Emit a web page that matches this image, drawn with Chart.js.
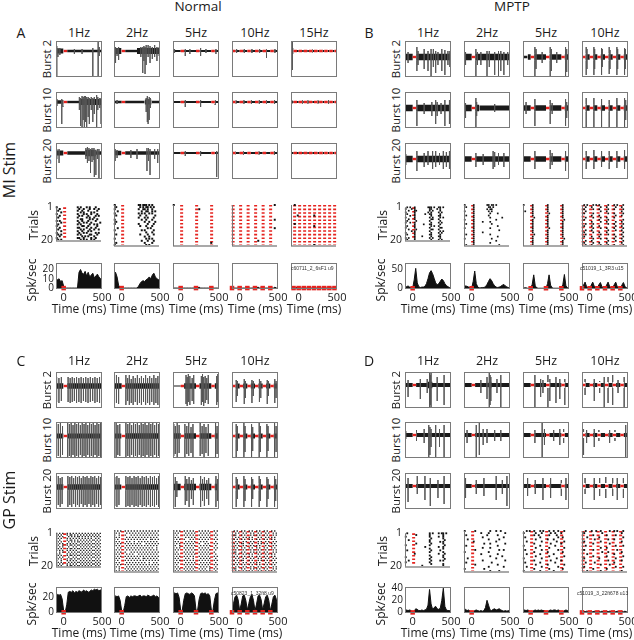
<!DOCTYPE html>
<html>
<head>
<meta charset="utf-8">
<script src="https://cdn.jsdelivr.net/npm/chart.js@4.4.0/dist/chart.umd.min.js"></script>
<style>
  body { margin: 0; background: #fff; }
  #fig { position: relative; width: 634px; height: 640px; overflow: hidden; font-family: "Open Sans", sans-serif; color: #1a1a1a; }
  #fig canvas { position: absolute; }
  .t { position: absolute; white-space: nowrap; line-height: 1; transform: translate(-50%, -50%); }
  .rot { transform: translate(-50%, -50%) rotate(-90deg); }
  .id { position: absolute; white-space: nowrap; line-height: 1; font-family: "Liberation Sans", sans-serif; font-size: 5px; color: #333; }
</style>
</head>
<body>
<div id="fig"></div>
<script>
// ---- stimulation times (ms) ----
const stim1Hz = [0];
const stim2Hz = [0];
const stim5Hz = [0, 200, 400];
const stim10Hz = [-100, 0, 100, 200, 300, 400];
const stim15Hz = [-66.7, 0, 66.7, 133.3, 200, 266.7, 333.3, 400, 466.7];

const freqsAC = ['1Hz', '2Hz', '5Hz', '10Hz', '15Hz'];
const freqsBD = ['1Hz', '2Hz', '5Hz', '10Hz'];

// PSTH bins (ms)
const psthTime = [-100,-80,-60,-40,-20,0,20,40,60,80,100,120,140,160,180,200,220,240,260,280,300,320,340,360,380,400,420,440,460,480,500];

// ---- A: Normal, MI stim. traces: [time, low, high] in px-units from baseline ----
const A_burst2 = [
  [[-90,-26,5],[-75,-6,3],[-50,-4,3],[140,-3,2],[240,-3,2],[380,-25,3],[450,-26,9],[465,-5,4]],
  [[-95,-8,5],[-80,-12,4],[-60,-5,3],[-40,-9,4],[250,-6,4],[275,-22,4],[290,-10,5],[305,-23,4],[320,-14,6],[345,-6,6],[370,-12,5],[400,-8,4],[430,-6,6],[460,-10,4],[490,-5,4]],
  [[-80,-2,2],[60,-5,2],[120,-3,2],[260,-5,3],[330,-2,2],[460,-3,2]],
  [[-40,-2,2],[60,-2,2],[160,-2,2],[260,-2,2],[350,-7,2],[460,-2,2]],
  [[-92,-4,4],[-82,-19,9],[-75,-3,3],[30,-2,2],[180,-2,2],[300,-2,2]]
];
const A_noise2 = [
  [[-100,0,2.5],[45,500,1.2]],
  [[-100,0,3],[45,200,1.2],[200,500,3]],
  [[-100,500,1.1]],
  [[-100,500,0.9]],
  [[-100,-70,2.5],[-70,500,0.9]]
];
const A_burst10 = [
  [[-88,-4,3],[-25,-22,3],[-10,-5,2],[205,-8,5],[220,-24,4],[240,-26,6],[255,-18,5],[270,-25,6],[285,-20,6],[300,-26,5],[320,-15,5],[335,-22,4],[360,-8,5],[380,-20,4],[400,-12,5],[430,-25,7],[445,-8,5],[470,-6,4],[488,-22,4]],
  [[-60,-2,2],[320,-10,4],[335,-20,6],[345,-22,3],[360,-18,5],[375,-6,4]],
  [[60,-5,2],[260,-5,2],[450,-3,2]],
  [[-50,-2,2],[55,-2,2],[150,-2,2],[255,-2,2],[350,-2,2],[455,-2,2]],
  [[-90,-2,2],[50,-2,2],[120,-2,2],[250,-2,2],[390,-2,2]]
];
const A_noise10 = [
  [[-100,0,1.8],[45,200,1.2],[200,500,3]],
  [[-100,300,1.2],[300,390,2.5],[390,500,1.2]],
  [[-100,500,1.1]],
  [[-100,500,0.9]],
  [[-100,500,0.9]]
];
const A_burst20 = [
  [[-90,-6,4],[-60,-10,4],[290,-6,5],[310,-10,6],[330,-8,5],[350,-20,4],[370,-9,5],[395,-7,5],[400,-24,3],[420,-22,3],[440,-6,4],[460,-25,4]],
  [[-85,-8,4],[-60,-5,3],[120,-5,3],[200,-6,4],[330,-18,5],[350,-8,5],[370,-22,4],[430,-6,4],[470,-10,4]],
  [[-95,-3,3],[60,-3,2],[260,-3,2],[470,-24,2]],
  [[-60,-2,2],[50,-2,2],[250,-2,2],[450,-2,2]],
  [[-50,-2,2],[100,-2,2],[300,-2,2]]
];
const A_noise20 = [
  [[-100,0,2.5],[45,280,1.8],[280,420,3.2],[420,500,1.8]],
  [[-100,0,2.2],[45,500,1.8]],
  [[-100,500,1.1]],
  [[-100,500,0.9]],
  [[-100,500,0.9]]
];
// rasters: one string per trial, each char = 20 ms bin from -100 ms ('x' = spike)
const A_raster = [
  ["x.... ..... ....x .x... x.x.. .x...", "..x.. ..... ..... x..x. ..x.. x..x.", ".x... ..... ....x ..x.. .x... ..x..", "...x. ..... ..... .x.x. ...x. x....",
   "x.... ..... ....x ...x. x..x. ..x..", "..x.. ..... ..... x.x.. .x... .x.x.", ".x... ..... ....x ..... x.x.. x....", "..... ..... ..... .xx.. ..x.x ..x..",
   "x.x.. ..... ....x ..x.. .x... .x...", "...x. ..... ..... x..x. x..x. ....x", ".x... ..... ....x .x... ..x.. x.x..", "x.... ..... ..... ..xx. .x... ..x..",
   "..x.. ..... ....x x.... x..x. .x...", ".x... ..... ..... .x.x. ..x.. x..x.", "...x. ..... ....x ..x.. .x.x. .....", "x.... ..... ..... x..x. x.... .x.x.",
   ".x.x. ..... ....x .x... ..xx. ..x..", "..x.. ..... ..... ..x.x .x... x....", "x.... ..... ....x x..x. ...x. .x...", ".x.x. ..... ..... .x.x. x..x. x...."],
  ["x.... ..... ..... .xx.x xx.x. x....", ".x... ..... ..... ..x.x .xx.x .x...", "x.... ..... ..... .x..x x.x.. x....", "..x.. ..... ..... ...x. .xx.. x.x..",
   "x.... ..... ..... .x.x. x..x. x....", ".x... ..... ..... ..x.. .x... ..x..", "..... ..... ..... .x... x.x.. .x...", "x.... ..... ..... ...x. .x... x....",
   ".x... ..... ..... ..... x..x. ..x..", "x.... ..... ..... .x... ..x.. .x...", "..... ..... ..... ..x.. .x... x....", "..x.. ..... ..... ..... ..x.x .....",
   "x.... ..... ..... ...x. x.... .x...", "..... ..... ..... ..... .x... x....", ".x... ..... ..... ..x.. ..x.. .x...", "..... ..... ..... ..... x..x. .....",
   "x.... ..... ..... ..... .x.x. x....", "..... ..... ..... ...x. ..x.. .x...", ".x... ..... ..... ..... x.... x....", "x.... ..... ..... ..... .x.x. ....."],
  ["x", "", "..... ..... ..... ..x", "", "", "", "", "", "", "", "", "", "", "", "", "", "", "", "..... ..... ..... ..... ..... x", ""],
  ["..... ..... ..... ..... ..... ...x", "", "", "", "", "", "", "..... ..... ..... ..... ..... ...x", "", "", "", "..... ..... ..... ..... ..... ...x", "", "", "", "", "", "..... ..... ..... ..x", "", ""],
  ["..x", "", "", "", "", "....x ..... ..... x", "", "", "", "..x", "..... ..... ..... x", "", "", "", "", "", "", "", "", "..... ..... ..... x"]
];
const A_psth = [
  [10,9,10,7,8, 2,0,0,0,0, 0,0,0,0,0, 17,20,16,15,18, 13,17,12,14,16, 11,13,15,12,10, 10],
  [5,17,12,3,1, 0,0,0,0,0, 0,0,0,0,0, 0,2,5,7,8, 7,9,10,12,10, 14,16,12,10,9, 10],
  [1,0,0,0,0, 0,0,0,0,0, 0,0,0,0,0, 0,0,1,0,0, 0,0,0,0,0, 1,0,0,0,0, 0],
  [0,0,0,0,0, 0,0,0,0,0, 0,0,0,0,0, 0,0,1,0,0, 0,0,0,0,0, 0,0,0,1,0, 0],
  [0,0,1,0,1, 0,0,0,0,0, 0,0,0,0,0, 1,0,0,0,0, 0,0,0,0,0, 0,0,0,0,0, 0]
];

// ---- B: MPTP, MI stim ----
const B_burst2 = [
  [[-95,-10,6],[-60,-6,5],[55,-14,10],[70,-8,6],[150,-12,8],[200,-14,6],[240,-19,8],[270,-10,8],[300,-16,6],[330,-8,5],[380,-14,8],[420,-18,7],[460,-8,6],[485,-10,6]],
  [[-95,-20,6],[-80,-8,5],[55,-20,8],[75,-8,5],[120,-8,5],[200,-20,6],[230,-10,6],[300,-18,5],[350,-20,6],[380,-14,6],[420,-18,5],[470,-8,5]],
  [[55,-20,10],[70,-12,8],[150,-6,5],[255,-20,10],[270,-14,8],[340,-6,5],[455,-20,10],[470,-15,8]],
  [[-45,-18,10],[-35,-12,8],[55,-18,10],[65,-12,8],[155,-18,9],[165,-10,8],[255,-17,10],[265,-12,7],[355,-18,10],[365,-12,8],[455,-18,9],[465,-12,8]]
];
const B_noise2 = [[[-100,500,3.2]], [[-100,500,3.2]], [[-100,-40,1.2],[-40,500,2.8]], [[-100,500,2.8]]];
const B_burst10 = [
  [[55,-18,8],[150,-6,5],[250,-8,6],[300,-16,8],[320,-8,6],[370,-6,5],[420,-18,8],[480,-16,8],[490,-10,6]],
  [[-80,-10,5],[55,-20,10],[65,-8,6],[300,-4,4]],
  [[-60,-6,6],[55,-18,9],[255,-16,8],[280,-6,5],[455,-18,9],[470,-10,6]],
  [[-45,-20,10],[55,-20,10],[155,-20,9],[255,-20,8],[355,-20,10],[455,-20,10],[470,-12,8]]
];
const B_noise10 = [[[-100,500,3.2]], [[-100,100,3.2],[100,500,2.5]], [[-100,500,2.8]], [[-100,500,2.8]]];
const B_burst20 = [
  [[-90,-6,5],[55,-12,8],[150,-8,6],[200,-6,8],[260,-10,8],[300,-8,8],[350,-6,6],[400,-10,8],[440,-8,7],[480,-10,8]],
  [[55,-8,6],[150,-6,5],[280,-10,8],[300,-8,7],[350,-6,6],[420,-8,6]],
  [[55,-10,8],[255,-10,9],[280,-6,6],[455,-12,8]],
  [[-45,-10,8],[55,-10,9],[155,-8,8],[255,-10,8],[355,-9,8],[455,-10,9]]
];
const B_noise20 = [[[-100,500,3.2]], [[-100,500,2.8]], [[-100,500,2.8]], [[-100,500,2.8]]];
const B_raster = [
  [".x.x. .x... ..... xxx.x ..xx. x....", "x...x .x... ..... .xx.. .x.x. .....", "..x.. .xx.. ..... .x.x. ...x. .....", "x.... .x... ..... x.x.. ..x.x .....",
   ".x... .x... ...x. .xx.. ...x. .....", "...x. .x... ..... ..x.. ..xx. .....", "x.... .x... ..... .x.x. ...x. x....", "..x.. .x... ..... ..xx. ..x.. .....",
   ".x... ..x.. ..... .x... ...x. .....", "x..x. .x... ..... ..x.. ..x.x .....", "..... .x... ..x.. .xx.. ...x. .....", ".x... .x... ..... ..x.x ..x.. .....",
   "x.... .x... ..... .x... ...xx .....", "..x.. ..x.. ..... ..xx. ..x.. .....", "....x .x... ..... .x... ...x. x....", "x.... .x... ..... ..x.. ..x.x .....",
   ".x... .x... ..... .xx.. ...x. .....", "..... .x... .x... ..x.. ..xx. .....", "x.x.. .x... ..... .x.x. ...x. .....", ".x... .x... ..... ..x.. ..x.x ....."],
  ["x.... .x... ..... xx.xx .x... .....", ".x... .x... ..... .xx.x ..... .....", "..... .x... ..... x.xx. ..... .....", "x.... .x... ..... .x.x. ..... .....",
   "..... .x... ..... ..x.. ..x.. .....", ".x... .x... ..... .x... ..... .....", "..... .x... ..... ..x.. ..... x....", "x.... .x... ..... ..... .x... .....",
   "..... .x... ..x.. ..x.. ..... .....", ".x... .x... ..... ...x. ..... .....", "..... .x... ..... ..... ..x.. .....", "x.... .x... ..... ..x.. ..... .....",
   "..... .x... ..... ..... ...x. .....", "..... .x... ..x.. ..... ..... .....", ".x... .x... ..... ..x.. ..... .....", "..... .x... ..... ..... ..x.. .....",
   "x.... .x... ..... ...x. ..... .....", "..... .x... ..... ..... .x... .....", "..... .x... ..... ..x.. ..... .....", ".x... .x... ..... ..... ...x. ....."],
  ["x.... .x... ..... .x... ..... .x...", "..... .x... ..... .x... ..... .x...", "..... .x... ..... .x... ..... .x...", ".x... .x... ..... .x... ..... .x...",
   "..... .x... ..... ..x.. ..... .x...", "..... .x... ..... .x... ..... .x...", "..... ..x.. ..... .x... ..... .x...", "..... .x... ..... .x... ..... ..x..",
   "..... .x... ..... .x... ..... .x...", "..... .x... ..... .x... ..... .x...", "..... .x... ..... .x... ..... .x...", "..... .x... ..... ..x.. ..... .x...",
   "..... .x... ..... .x... ..... .x...", "..... .x... ..... .x... ..... .x...", "..... ..x.. ..... .x... ..... .x...", "..... .x... ..... .x... ..... .x...",
   "..... .x... ..... .x... ..... ..x..", "..... .x... ..... .x... ..... .x...", "..... .x... ..... .x... ..... .x...", "..... .x... ..... .x... ..... .x..."],
  [".x.x. ..x.x .x... ..x.. .x.x. ..x..", "..x.. .x... ..x.. .x... ..x.. .x...", ".x... ..x.. .x... ..x.. .x... ..x..", "..x.. ..... ..x.. .x... ..... .x...",
   ".x... ..x.. ..... ..x.. .x... ..x..", "..... .x... .x... ..... ..x.. .x...", "..x.. ..x.. ..x.. .x... .x... .....", ".x... ..... .x... ..x.. ..... ..x..",
   "..... .x... ..x.. .x... ..x.. .x...", "..x.. ..x.. ..... ..x.. .x... ..x..", ".x... .x... .x... ..... ..x.. .x...", "..... ..x.. ..x.. .x... .x... ..x..",
   "..x.. .x... ..... ..x.. ..x.. .x...", ".x... ..x.. .x... .x... ..... ..x..", "..x.. ..... ..x.. ..x.. .x... .x...", ".x... .x... .x... ..... ..x.. ..x..",
   "..... ..x.. ..x.. .x... .x... .x...", "..x.. .x... ..... ..x.. ..x.. ..x..", ".x... ..x.. .x... .x... ..... .x...", "..x.. .x... ..x.. ..x.. .x... ..x.."]
];
const B_psth = [
  [5,4,6,3,2, 0,22,52,14,4, 2,3,3,5,12, 25,40,46,38,26, 14,9,12,18,24, 20,12,7,4,2, 2],
  [8,6,5,3,2, 0,18,45,12,3, 1,1,2,2,4, 10,18,25,20,12, 6,3,2,3,5, 8,10,6,3,2, 1],
  [1,1,1,0,0, 0,10,35,6,1, 0,0,0,0,0, 0,12,35,8,1, 0,0,0,0,0, 0,10,36,6,1, 0],
  [1,8,16,4,1, 1,8,16,5,1, 1,9,15,4,1, 1,8,16,5,1, 1,9,16,4,1, 1,8,15,5,1, 1]
];

// ---- C: Normal, GP stim ----
const C_burst2 = [
  [[-92,-16,9],[-62,-17,8],[-30,-15,9],[58,-16,9],[85,-17,8],[112,-16,9],[140,-15,8],[168,-17,9],[198,-16,8],[228,-17,9],[258,-15,8],[288,-16,9],[318,-17,8],[348,-16,9],[378,-15,8],[408,-17,9],[438,-16,8],[468,-17,9],[495,-15,8]],
  [[-95,-19,10],[-68,-17,11],[-40,-18,9],[55,-19,11],[78,-15,8],[100,-19,11],[125,-17,7],[150,-19,10],[178,-16,8],[205,-19,11],[232,-17,8],[258,-19,10],[285,-16,8],[312,-19,11],[338,-17,8],[365,-19,10],[392,-16,8],[420,-19,11],[446,-17,8],[472,-19,10],[496,-16,8]],
  [[70,-18,11],[85,-20,9],[100,-16,12],[120,-19,10],[150,-15,8],[170,-18,11],[270,-19,10],[285,-16,12],[300,-20,9],[320,-17,10],[340,-14,8],[360,-18,11],[470,-19,10],[485,-16,12]],
  [[-45,-16,6],[-30,-10,5],[60,-18,7],[75,-12,5],[160,-17,6],[178,-10,5],[258,-16,7],[275,-12,5],[360,-18,6],[375,-10,5],[458,-17,7],[475,-12,5]]
];
const C_noise2 = [[[-100,0,2.8],[45,500,2.8]], [[-100,500,2.8]], [[-100,40,0.6],[40,500,2.8]], [[-100,500,2.5]]];
const C_burst10 = [
  [[-95,-21,13],[-70,-20,12],[-42,-21,13],[-15,-19,10],[52,-21,13],[75,-20,12],[98,-21,13],[122,-19,11],[146,-21,13],[170,-20,12],[194,-21,13],[218,-19,11],[242,-21,13],[266,-20,12],[290,-21,13],[314,-19,11],[338,-21,13],[362,-20,12],[386,-21,13],[410,-19,11],[434,-21,13],[458,-20,12],[482,-21,13]],
  [[-95,-20,12],[-72,-21,13],[-50,-19,11],[-25,-20,12],[55,-21,13],[80,-20,12],[105,-21,13],[130,-19,11],[155,-21,13],[180,-20,12],[205,-21,13],[230,-19,11],[255,-21,13],[280,-20,12],[305,-21,13],[330,-19,11],[355,-21,13],[380,-20,12],[405,-21,13],[430,-19,11],[455,-21,13],[480,-20,12]],
  [[-90,-20,12],[-70,-18,10],[-45,-21,13],[-20,-17,11],[55,-21,12],[80,-18,10],[105,-20,13],[135,-17,9],[160,-21,12],[255,-20,13],[280,-18,10],[305,-21,12],[330,-17,9],[360,-20,12],[455,-21,13],[475,-18,10],[495,-20,12]],
  [[-45,-21,12],[-30,-15,10],[55,-21,13],[70,-16,10],[155,-21,12],[170,-15,9],[255,-21,13],[270,-16,10],[355,-21,12],[370,-15,10],[455,-21,13],[475,-16,10]]
];
const C_noise10 = [[[-100,0,2.5],[45,500,2.5]], [[-100,0,2.5],[45,500,2.8]], [[-100,500,2.8]], [[-100,500,2.5]]];
const C_burst20 = [
  [[-95,-20,10],[-70,-18,11],[-45,-20,9],[-20,-17,10],[55,-20,11],[80,-18,10],[105,-20,11],[130,-17,9],[155,-20,11],[180,-18,10],[205,-20,11],[230,-17,9],[255,-20,11],[280,-18,10],[305,-20,11],[330,-17,9],[355,-20,11],[380,-18,10],[405,-20,11],[430,-17,9],[455,-20,11],[480,-18,10]],
  [[-90,-19,10],[-62,-20,11],[-35,-18,9],[55,-20,11],[82,-19,10],[108,-20,11],[135,-18,9],[162,-20,11],[188,-19,10],[215,-20,11],[242,-18,9],[268,-20,11],[295,-19,10],[322,-20,11],[348,-18,9],[375,-20,11],[402,-19,10],[428,-20,11],[455,-18,9],[482,-20,11]],
  [[-95,-12,8],[-70,-20,10],[-50,-10,6],[60,-18,11],[80,-14,8],[110,-20,10],[140,-12,7],[165,-18,9],[260,-20,11],[285,-14,8],[310,-19,10],[340,-12,7],[365,-18,9],[460,-20,11],[480,-14,8]],
  [[-45,-20,10],[-30,-12,8],[55,-20,11],[70,-14,8],[155,-20,10],[170,-12,8],[255,-20,11],[270,-14,8],[355,-20,10],[370,-12,8],[455,-20,11],[470,-14,8]]
];
const C_noise20 = [[[-100,0,2.8],[45,500,2.8]], [[-100,0,2.5],[45,500,2.8]], [[-100,500,3.2]], [[-100,500,2.5]]];
const C_raster = [
  ["x.x.x ..x.x .x.x. x.x.x .x.x. x.x.x", ".x.x. ..x.x x.x.x .x.x. x.x.x .x.x.", "x.x.x ...x. x.x.x x.x.x .x.x. x.x.x", ".x.x. ..x.x .x.x. x.x.x .x.x. .x.x.",
   "x.x.. ..x.x x.x.x .x.x. x.x.x x.x.x", ".x.x. ...x. x.x.x x.x.x .x.x. .x.x.", "x.x.x ..x.x .x.x. .x.x. x.x.x x.x.x", ".x..x ..x.x x.x.x x.x.x .x.x. .x.x.",
   "x.x.x ...x. .x.x. .x.x. x.x.x x.x.x", ".x.x. ..x.x x.x.x x.x.x .x.x. .x.x.", "x.x.x ..x.x .x.x. .x.x. x.x.x x.x.x", "..x.x ...x. x.x.x x.x.x .x.x. .x.x.",
   "x.x.. ..x.x .x.x. .x.x. x.x.x x.x.x", ".x.x. ..x.x x.x.x x.x.x .x.x. .x.x.", "x.x.x ...x. .x.x. .x.x. x.x.x x.x.x", ".x.x. ..x.x x.x.x x.x.x .x.x. .x.x.",
   "x..x. ..x.x .x.x. .x.x. x.x.x x.x.x", ".x.x. ...x. x.x.x x.x.x .x.x. .x.x.", "x.x.x ..x.x .x.x. .x.x. x.x.x x.x.x", ".x.x. ..x.x x.x.x x.x.x .x.x. .x.x."],
  ["x.x.x ..x.x .x.x. x.x.x .x.x. x.x.x", ".x.x. ...x. x.x.x .x.x. x.x.x .x.x.", "x..x. ..x.. .x.x. x.x.x .x.x. x.x.x", ".x.x. ...x. x.x.x .x.x. x.x.x .x.x.",
   "x.x.. ..x.x .x.x. x.x.x .x..x x.x.x", ".x.x. ...x. x..x. .x.x. x.x.x .x.x.", "x.x.x ..x.x .x.x. x.x.. .x.x. x.x.x", ".x.x. ...x. x.x.x .x.x. x.x.x .x.x.",
   "..x.x ..x.x .x.x. x.x.x .x.x. x..x.", ".x.x. ...x. x.x.x .x.x. x.x.x .x.x.", "x.x.x ..x.. .x.x. x.x.x .x.x. x.x.x", ".x.x. ...x. x.x.. .x.x. x.x.x .x.x.",
   "x.x.x ..x.x .x.x. x.x.x .x.x. x.x.x", ".x.x. ...x. x.x.x .x..x x.x.x .x.x.", "x.x.. ..x.x .x.x. x.x.x .x.x. x.x.x", ".x.x. ...x. x.x.x .x.x. x..x. .x.x.",
   "x.x.x ..x.x .x.x. x.x.x .x.x. x.x.x", ".x.x. ...x. x.x.x .x.x. x.x.x .x.x.", "x..x. ..x.x .x.x. x.x.x .x.x. x.x.x", ".x.x. ...x. x.x.x .x.x. x.x.x .x.x."],
  ["x.x.x ..x.x .x.x. ..x.x .x.x. ..x.x", ".x.x. ...x. x.x.x ...x. x.x.x ...x.", "x.x.. ..x.x .x.x. ..x.x .x.x. ..x.x", ".x.x. ...x. x.x.x ...x. x.x.x ...x.",
   "x.x.x ..x.. .x.x. ..x.x .x.x. ..x.x", ".x.x. ...x. x.x.x ...x. x.x.. ...x.", "x.x.x ..x.x .x.x. ..x.. .x.x. ..x.x", ".x..x ...x. x.x.x ...x. x.x.x ...x.",
   "x.x.x ..x.x .x.x. ..x.x .x.x. ..x.x", ".x.x. ...x. x.x.x ...x. x.x.x ...x.", "x.x.. ..x.x .x.x. ..x.x .x.x. ..x..", ".x.x. ...x. x.x.x ...x. x.x.x ...x.",
   "x.x.x ..x.x .x.x. ..x.x .x.x. ..x.x", ".x.x. ...x. x..x. ...x. x.x.x ...x.", "x.x.x ..x.x .x.x. ..x.x .x.x. ..x.x", ".x.x. ...x. x.x.x ...x. x.x.x ...x.",
   "x.x.. ..x.x .x.x. ..x.x .x.x. ..x.x", ".x.x. ...x. x.x.x ...x. x.x.x ...x.", "x.x.x ..x.x .x.x. ..x.x .x..x ..x.x", ".x.x. ...x. x.x.x ...x. x.x.x ...x."],
  [".x.x. .x.x. .x.x. .x.x. .x.x. .x.x.", "..x.x ..x.x ..x.x ..x.x ..x.x ..x.x", ".xx.. .x.x. ..x.x .x.x. .x.x. ..x.x", "..x.x ..x.x .x.x. ..x.x ..x.x .x.x.",
   ".x.x. .x.x. .x.x. .x.x. .x.x. .x.x.", "..x.x ..x.x ..x.x ..x.x ..x.x ..x.x", ".x.x. .xx.. .x.x. ..x.x .x.x. .x.x.", "..x.x ..x.x ..x.x .x.x. ..x.x ..x.x",
   ".x.x. .x.x. .x.x. .x.x. .x.x. .x.x.", "..x.x ..x.x ..x.x ..x.x ..x.x ..x.x", ".xx.. .x.x. ..x.x .x.x. .x.x. ..x.x", "..x.x ..x.x .x.x. ..x.x ..x.x .x.x.",
   ".x.x. .x.x. .x.x. .x.x. .x.x. .x.x.", "..x.x ..x.x ..x.x ..x.x ..x.x ..x.x", ".x.x. .xx.. .x.x. ..x.x .x.x. .x.x.", "..x.x ..x.x ..x.x .x.x. ..x.x ..x.x",
   ".x.x. .x.x. .x.x. .x.x. .x.x. .x.x.", "..x.x ..x.x ..x.x ..x.x ..x.x ..x.x", ".xx.. .x.x. ..x.x .x.x. .x.x. ..x.x", "..x.x ..x.x .x.x. ..x.x ..x.x .x.x."]
];
const C_psth = [
  [22,24,23,24,18, 2,0,10,27,28, 27,29,26,28,27, 29,28,27,30,28, 29,27,28,30,29, 31,30,31,29,30, 30],
  [20,22,21,22,16, 2,0,9,21,22, 20,22,21,22,22, 21,22,23,21,22, 22,21,23,22,21, 22,23,21,22,20, 21],
  [24,26,25,26,20, 3,2,16,25,26, 25,24,26,25,22, 3,2,17,25,26, 25,26,24,25,22, 3,2,16,25,26, 25],
  [3,12,21,23,17, 2,11,22,23,16, 3,12,21,24,16, 2,11,22,23,17, 3,12,21,23,16, 2,11,21,23,17, 4]
];

// ---- D: MPTP, GP stim ----
const D_burst2 = [
  [[-60,-12,5],[100,-14,6],[190,-8,6],[220,-22,12],[230,-20,10],[240,-22,12],[320,-16,8],[410,-20,10]],
  [[-95,-22,6],[120,-8,5],[200,-14,8],[230,-22,12],[240,-20,10],[250,-16,8],[330,-8,6],[380,-22,10]],
  [[55,-22,10],[130,-12,6],[160,-8,5],[225,-22,10],[250,-16,6],[330,-18,8],[380,-14,6],[445,-20,6]],
  [[-60,-10,6],[60,-16,6],[130,-8,4],[190,-22,8],[240,-18,8],[300,-20,10],[370,-8,5],[450,-22,8]]
];
const D_noise2 = [[[-100,500,2],[200,260,3.2]], [[-100,500,2],[220,260,3.2]], [[-100,500,2]], [[-100,500,2]]];
const D_burst10 = [
  [[-90,-4,4],[50,-6,5],[150,-8,6],[210,-22,10],[225,-20,8],[240,-12,6],[300,-22,10],[350,-12,6],[410,-22,10]],
  [[-60,-8,5],[60,-22,10],[100,-20,12],[150,-10,6],[200,-8,6],[300,-6,5],[380,-6,5]],
  [[55,-8,5],[150,-22,12],[180,-10,6],[300,-6,5],[380,-10,6],[430,-8,6]],
  [[-80,-20,6],[-40,-8,5],[60,-12,6],[120,-6,5],[260,-8,5],[330,-6,5],[470,-22,10]]
];
const D_noise10 = [[[-100,500,2]], [[-100,500,2]], [[-100,500,2]], [[-100,500,2]]];
const D_burst20 = [
  [[-60,-16,8],[60,-8,10],[160,-14,10],[230,-20,8],[330,-12,6],[410,-18,10]],
  [[-80,-12,8],[60,-8,6],[160,-10,8],[320,-14,10],[400,-8,6],[460,-20,10]],
  [[-40,-10,8],[60,-8,6],[160,-14,8],[260,-12,8],[400,-10,6],[460,-14,8]],
  [[-60,-8,8],[60,-14,8],[130,-10,8],[210,-12,9],[300,-10,8],[360,-14,8],[440,-12,8]]
];
const D_noise20 = [[[-100,500,2]], [[-100,500,2]], [[-100,500,2]], [[-100,500,2]]];
const D_raster = [
  [".x... ..... ..... .x.x. ..x.x x.x..", "..... ..x.. ..... .x... ..... x....", "x.... ..... ..... .x... ..x.. x....", "..... ..... ..... ..x.. ..... x....",
   "..x.. ..... ..... .x... ..... .x...", "..... ..... ..... .x... ...x. x....", "..... ..x.. ..... ..x.. ..... x....", "x.... ..... ..... .x... ..... .x...",
   "..... ..... ...x. ..... ..x.. x....", "..... ..... ..... .x... ..... x....", ".x... ..... ..... ..x.. ...x. .....", "..... ..... ..... .x... ..... x....",
   "..... .x... ..... ..... ..x.. .x...", "..... ..... ..... .x... ..... x....", "x.... ..... ..... ..x.. ..... x....", "..... ..... ..... .x... ..... .x...",
   "..x.. ..... ..... ..x.. ...x. x....", "x.... ..... ..... .x... ..... .....", "..... ..... ..... ..x.. ..... x....", "..... ..... .x... ..... ..... x...."],
  ["x.... ..x.. ..... ..x.. .x..x .....", "..... ..... .x... .x... ..... ..x..", ".x... ..... ..... x.... ..x.. .....", "..... ..... ..x.. ..... ..... .x...",
   "..x.. ..... ..... .x... ...x. .....", "..... .x... ..... ..... .x... .....", "..... ..... ...x. ..x.. ..... ..x..", ".x... ..... ..... ..... ..x.. .....",
   "..... ..... ..x.. ..x.. ..... .....", "..... ..x.. ..... ..... ...x. .x...", "x.... ..... ..... .x... ..... .....", "..... ..... .x... ..... ..x.. .....",
   "..... ..... ..... ..x.. ..... x....", "..x.. ..... ..... ..... .x... .....", "..... ..... ..x.. ..... ..... ..x..", ".x... ..... ..... ...x. ..... .....",
   "..... ..x.. ..... ..... ..x.. .....", "..... ..... ..... .x... ..... .x...", "x.... ..... ...x. ..... ..... .....", "..... ..... ..... ..x.. ...x. ....."],
  ["..x.x ..x.. .x.x. ..x.. x..x. ..x..", "x.... ...x. ..x.. ...x. .x... x....", "..... ..x.. x.... ..x.. ..x.. .....", ".x... ..... .x... ..... ...x. .x...",
   "..... ...x. ..... .x... x.... .....", "..x.. ..... ..x.. ..... ..x.. ..x..", "..... ..x.. ..... ...x. ..... x....", "x.... ..... .x... ..... .x... .....",
   "..... ...x. ..... ..x.. ..... ..x..", ".x... ..... ..x.. ..... ...x. .....", "..... ..x.. ..... .x... ..... .x...", "..x.. ..... .x... ..... x.... .....",
   "..... ...x. ..... ..x.. ..... ..x..", "x.... ..... ..x.. ..... ..x.. .....", "..... ..x.. ..... ...x. ..... x....", ".x... ..... .x... ..... .x... .....",
   "..... ...x. ..... .x... ..... ..x..", "..x.. ..... ..x.. ..... ...x. .....", "..... ..x.. ..... ..x.. ..... .x...", "x.... ..... .x... ..... x.... ....."],
  ["..x.. .x..x ..x.. ...x. .x.x. ..x..", ".x... ..... ...x. ..... ..... .x...", "..... ..x.. ..... .x... ..x.. .....", "...x. ..... .x... ..... ..... ..x..",
   "..... ...x. ..... ..x.. .x... .....", ".x... ..... ..x.. ..... ..... .x...", "..... ..x.. ..... ...x. ..... .....", "..x.. ..... ..... ..... ..x.. ..x..",
   "..... ..... ..x.. .x... ..... .....", ".x... ..x.. ..... ..... ...x. .....", "..... ..... ...x. ..x.. ..... .x...", "...x. ..... ..... ..... .x... .....",
   "..... ..x.. ..... .x... ..... ..x..", ".x... ..... .x... ..... ..x.. .....", "..... ..... ..... ..x.. ..... .x...", "..x.. ...x. ..... ..... .x... .....",
   "..... ..... ..x.. ...x. ..... .....", ".x... ..... ..... ..... ..x.. ..x..", "..... ..x.. ..... .x... ..... .....", "...x. ..... ..x.. ..... ..... .x..."]
];
const D_psth = [
  [3,4,3,4,3, 0,2,6,5,3, 3,4,3,4,5, 12,38,14,5,8, 10,6,5,7,20, 40,10,4,3,3, 3],
  [4,5,3,4,2, 0,1,3,4,3, 2,3,2,3,8, 20,12,4,3,5, 6,4,5,6,4, 3,2,3,2,3, 2],
  [3,4,3,4,3, 0,1,3,4,3, 4,3,4,3,3, 0,1,3,4,3, 4,4,3,4,3, 0,1,3,4,3, 3],
  [1,2,1,2,1, 1,2,1,2,1, 1,2,1,2,1, 1,2,1,2,1, 1,2,1,2,1, 1,2,1,2,1, 1]
];

// ---- layout ----
const colLeftAC = [56, 114, 173, 232, 291];
const colLeftBD = [405, 464, 523, 582];
const rowTopUpper = [41, 92, 143, 205, 263];
const rowTopLower = [372, 422, 473, 531, 587];
const BOX_W = 46, BURST_H = 36, RASTER_H = 40, PSTH_H = 26;
const RED = '#e5231f';
const RED_LEN = 45;

Chart.defaults.font.family = '"Open Sans", sans-serif';
Chart.defaults.color = '#1a1a1a';
Chart.defaults.animation = false;
Chart.defaults.responsive = false;
Chart.defaults.events = [];
Chart.defaults.plugins.legend.display = false;
Chart.defaults.plugins.tooltip.enabled = false;
Chart.defaults.elements.point.radius = 0;
Chart.defaults.elements.line.tension = 0;

// axes box (full box or left+bottom for rasters)
Chart.register({
  id: 'frame',
  afterDatasetsDraw(chart, args, opts) {
    const { ctx, chartArea: a } = chart;
    ctx.save();
    if (opts.mode === 'lb') {
      ctx.strokeStyle = '#a9a9a9';
      ctx.lineWidth = 2;
      ctx.beginPath();
      ctx.moveTo(a.left, Math.round(a.bottom) + 1);
      ctx.lineTo(a.right, Math.round(a.bottom) + 1);
      ctx.stroke();
      ctx.strokeStyle = '#777';
      ctx.lineWidth = 1;
      ctx.beginPath();
      ctx.moveTo(Math.round(a.left) + 0.5, a.top);
      ctx.lineTo(Math.round(a.left) + 0.5, a.bottom + 1);
      ctx.stroke();
    } else {
      ctx.strokeStyle = '#7a7a7a';
      ctx.lineWidth = 1;
      ctx.strokeRect(Math.round(a.left) + 0.5, Math.round(a.top) + 0.5, Math.round(a.width) - 1, Math.round(a.height) - 1);
    }
    ctx.restore();
  }
});

const fig = document.getElementById('fig');

function mkCanvas(x, y, w, h) {
  const c = document.createElement('canvas');
  c.width = w; c.height = h;
  c.style.left = x + 'px'; c.style.top = y + 'px';
  c.style.width = w + 'px'; c.style.height = h + 'px';
  fig.appendChild(c);
  return c;
}

function txt(s, x, y, size, rot) {
  const d = document.createElement('div');
  d.className = rot ? 't rot' : 't';
  d.style.left = x + 'px'; d.style.top = y + 'px';
  d.style.fontSize = size + 'px';
  d.textContent = s;
  fig.appendChild(d);
}

function idLabel(s, x, y) {
  const d = document.createElement('div');
  d.className = 'id';
  d.style.left = x + 'px'; d.style.top = y + 'px';
  d.textContent = s;
  fig.appendChild(d);
}

function traceChart(x, y, range, spikes, noise, stims) {
  const cv = mkCanvas(x, y, BOX_W, BURST_H);
  const red = [], sp = [];
  stims.forEach(s => red.push({ x: s, y: 0 }, { x: s + RED_LEN, y: 0 }, { x: s + RED_LEN, y: null }));
  spikes.forEach(([t, lo, hi]) => sp.push({ x: t, y: hi }, { x: t, y: lo }, { x: t, y: null }));
  const maxN = Math.max(...noise.map(n => n[2]));
  const ds = [
    { data: red, borderColor: RED, borderWidth: 2.4, borderCapStyle: 'butt' },
    { data: red, borderColor: '#fff', borderWidth: 2 * maxN + 2, borderCapStyle: 'butt' },
    { data: sp, borderColor: '#555', borderWidth: 0.8 }
  ];
  noise.forEach(([t0, t1, a]) => {
    ds.push({ data: [{ x: t0, y: a }, { x: t1, y: a }], fill: '+1', backgroundColor: '#1a1a1a', borderWidth: 0 });
    ds.push({ data: [{ x: t0, y: -a }, { x: t1, y: -a }], borderWidth: 0 });
  });
  new Chart(cv, {
    type: 'line',
    data: { datasets: ds },
    options: {
      devicePixelRatio: 1,
      layout: { padding: 0 },
      scales: {
        x: { type: 'linear', display: false, min: -100, max: 500 },
        y: { display: false, min: range[0], max: range[1] }
      }
    }
  });
}

function rasterChart(x, y, rows, stims, showY, dotR) {
  const cv = mkCanvas(x - 18, y - 7, 18 + BOX_W + 3, 7 + RASTER_H + 4);
  const dots = [];
  rows.forEach((s, r) => {
    s.replace(/ /g, '').split('').forEach((c, i) => {
      if (c === 'x') dots.push({ x: -90 + 20 * i, y: r + 1 });
    });
  });
  const red = [];
  stims.forEach(s => red.push({ x: s + 15, y: 1 }, { x: s + 15, y: 20 }, { x: s + 15, y: null }));
  new Chart(cv, {
    type: 'line',
    data: { datasets: [
      { data: dots, showLine: false, pointStyle: 'rect', pointRadius: dotR, pointBackgroundColor: '#111', pointBorderWidth: 0, clip: false },
      { data: red, borderColor: RED, borderWidth: 3, borderDash: [1.6, 2], borderCapStyle: 'butt', clip: false }
    ] },
    options: {
      devicePixelRatio: 1,
      layout: { padding: { top: 7, bottom: 4, right: 3, left: 0 } },
      scales: {
        x: { type: 'linear', display: false, min: -100, max: 500 },
        y: {
          min: 1, max: 20, reverse: true,
          afterFit: s => { s.width = 18; },
          afterBuildTicks: ax => { ax.ticks = [{ value: 1 }, { value: 20 }]; },
          ticks: { display: showY, padding: 3, font: { size: 10.5 }, autoSkip: false },
          grid: { display: false, drawTicks: false },
          border: { display: false }
        }
      },
      plugins: { frame: { mode: 'lb' } }
    }
  });
}

function psthChart(x, y, vals, stims, range, yTicks, showY) {
  const cv = mkCanvas(x - 24, y - 8, 24 + BOX_W + 14, 8 + PSTH_H + 16);
  const area = psthTime.map((t, i) => ({ x: t, y: vals[i] }));
  const marks = stims.map(s => ({ x: s, y: 0 }));
  new Chart(cv, {
    type: 'line',
    data: { datasets: [
      { data: marks, showLine: false, pointStyle: 'rect', pointRadius: 3.2, pointBackgroundColor: RED, pointBorderWidth: 0, clip: false },
      { data: area, fill: 'origin', backgroundColor: '#111', borderColor: '#111', borderWidth: 1 }
    ] },
    options: {
      devicePixelRatio: 1,
      layout: { padding: { top: 8, right: 14, left: 0, bottom: 0 } },
      scales: {
        x: {
          type: 'linear', min: -100, max: 500,
          afterBuildTicks: ax => { ax.ticks = [{ value: 0 }, { value: 500 }]; },
          afterFit: s => { s.height = 16; },
          ticks: { padding: 2, maxRotation: 0, autoSkip: false, font: { size: 11 } },
          grid: { display: false, drawTicks: false },
          border: { display: false }
        },
        y: {
          min: range[0], max: range[1],
          afterBuildTicks: ax => { ax.ticks = yTicks.map(v => ({ value: v })); },
          afterFit: s => { s.width = 24; },
          ticks: { display: showY, padding: 2, autoSkip: false, font: { size: 10 } },
          grid: { display: false, drawTicks: false },
          border: { display: false }
        }
      }
    }
  });
}

function buildPanel(cols, tops, stims, b2, n2, b10, n10, b20, n20, rasters, psths, traceRange, psthRange, psthTicks, dotR) {
  cols.forEach((cx, i) => {
    traceChart(cx, tops[0], traceRange, b2[i], n2[i], stims[i]);
    traceChart(cx, tops[1], traceRange, b10[i], n10[i], stims[i]);
    traceChart(cx, tops[2], traceRange, b20[i], n20[i], stims[i]);
    rasterChart(cx, tops[3], rasters[i], stims[i], i === 0, dotR);
    psthChart(cx, tops[4], psths[i], stims[i], psthRange, psthTicks, i === 0);
  });
}

function panelLabels(cols, tops, freqs, headerY) {
  cols.forEach((cx, i) => {
    txt(freqs[i], cx + BOX_W / 2, headerY, 12.5);
    txt('Time (ms)', cx + BOX_W / 2, tops[4] + 46, 12);
  });
  const lx = cols[0] - 9;
  txt('Burst 2', lx, tops[0] + BURST_H / 2, 11.5, true);
  txt('Burst 10', lx, tops[1] + BURST_H / 2, 11.5, true);
  txt('Burst 20', lx, tops[2] + BURST_H / 2, 11.5, true);
  txt('Trials', cols[0] - 22, tops[3] + RASTER_H / 2, 12, true);
  txt('Spk/sec', cols[0] - 24, tops[4] + PSTH_H / 2 + 4, 12, true);
}

const stimsAC = [stim1Hz, stim2Hz, stim5Hz, stim10Hz, stim15Hz];
const stimsBD = [stim1Hz, stim2Hz, stim5Hz, stim10Hz];

buildPanel(colLeftAC, rowTopUpper, stimsAC, A_burst2, A_noise2, A_burst10, A_noise10, A_burst20, A_noise20, A_raster, A_psth, [-26, 10], [-1, 27], [0, 10, 20], 1.4);
buildPanel(colLeftBD, rowTopUpper, stimsBD, B_burst2, B_noise2, B_burst10, B_noise10, B_burst20, B_noise20, B_raster, B_psth, [-20, 16], [-2, 66], [0, 50], 1.2);
buildPanel(colLeftAC.slice(0, 4), rowTopLower, stimsBD, C_burst2, C_noise2, C_burst10, C_noise10, C_burst20, C_noise20, C_raster, C_psth, [-22, 14], [-1, 34], [0, 20], 0.9);
buildPanel(colLeftBD, rowTopLower, stimsBD, D_burst2, D_noise2, D_burst10, D_noise10, D_burst20, D_noise20, D_raster, D_psth, [-23, 13], [-1, 42], [0, 20, 40], 1.3);

panelLabels(colLeftAC, rowTopUpper, freqsAC, 33);
panelLabels(colLeftBD, rowTopUpper, freqsBD, 33);
panelLabels(colLeftAC.slice(0, 4), rowTopLower, freqsBD, 361);
panelLabels(colLeftBD, rowTopLower, freqsBD, 361);

txt('Normal', 198, 7, 13.5);
txt('MPTP', 512, 7, 13.5);
txt('A', 21, 33, 14);
txt('B', 369, 33, 14);
txt('C', 21, 361, 14);
txt('D', 369, 361, 14);
txt('MI Stim', 9, 170, 16, true);
txt('GP Stim', 9, 500, 16, true);

idLabel('c60711_2_6sF1 u9', 291, 266);
idLabel('c51019_1_3R3 u15', 580, 266);
idLabel('c50823_1_32ft8 u9', 231, 591);
idLabel('c51019_3_22ft678 u13', 577, 591);
</script>
</body>
</html>
